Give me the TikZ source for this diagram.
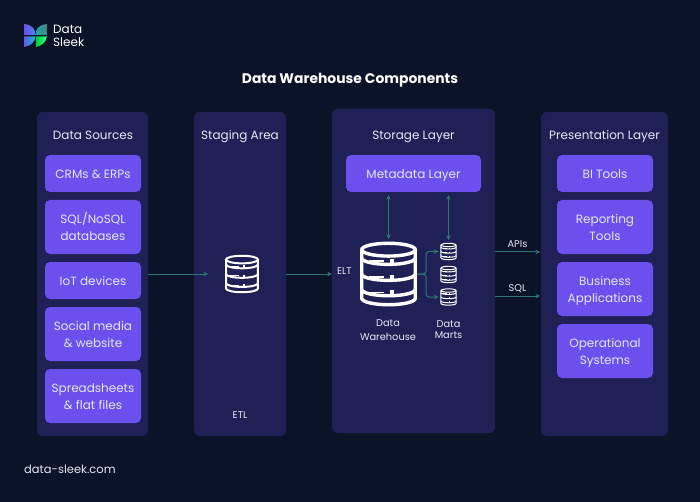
\documentclass[tikz,border=0pt]{standalone}
\usepackage{fontspec}
\setmainfont{Poppins}
\usetikzlibrary{calc}
\usetikzlibrary{arrows.meta,positioning}
\definecolor{bgdark}{HTML}{0B1328}
\definecolor{panelblue}{HTML}{1F2156}
\definecolor{boxviolet}{HTML}{6B50EE}
\definecolor{linkteal}{HTML}{2F7570}
\definecolor{labelgrey}{HTML}{E6E6F2}
\tikzset{
  panel/.style={fill=panelblue,rounded corners=6pt,inner sep=0pt},
  itembox/.style={fill=boxviolet,rounded corners=5pt,inner sep=0pt,text=labelgrey,
    font=\fontsize{12}{17}\selectfont,align=center},
  heading/.style={text=labelgrey,inner sep=0pt,text height=9pt,text depth=1pt,font=\fontsize{12}{15}\selectfont},
  smalltext/.style={text=labelgrey,inner sep=0pt,align=center,font=\fontsize{9.8}{14.5}\selectfont},
  link/.style={draw=linkteal,line width=1pt,-{Stealth[length=4.5pt,width=4.5pt]}},
  twoway/.style={link,{Stealth[length=4.5pt,width=4.5pt]}-{Stealth[length=4.5pt,width=4.5pt]},shorten <=3pt,shorten >=3pt},
  iconspot/.style={inner sep=0pt,outer sep=0pt},
}
\newcommand{\itl}[1]{\raisebox{-1.6pt}[9pt][3pt]{#1}}
% #1 name, #2 centre, #3 half width, #4 half height, #5 line width
\newcommand{\dbicon}[5]{
  \node[iconspot,minimum width=2*#3 pt,minimum height=2*#4 pt] (#1) at (#2) {};
  \begin{scope}[shift={(#2)},x=#3pt,y=-#4pt,draw=white,line width=#5,fill=white]
    \draw (0,-.76) ellipse [x radius=.94,y radius=.2];
    \draw (-.94,-.76) -- (-.94,.76) arc[start angle=180,end angle=0,x radius=.94,y radius=.2] -- (.94,-.76);
    \foreach \yy in {-.3,.2,.68} {
      \draw (-.94,\yy-.2) arc[start angle=180,end angle=0,x radius=.94,y radius=.2];
      \fill (.05,\yy-.17) rectangle (.2,\yy-.03);
      \draw[line width=.5*#5] (-.7,\yy-.1) -- (-.15,\yy-.1);
    }
  \end{scope}
}
\begin{document}
\begin{tikzpicture}[x=1pt,y=-1pt]
  \fill[bgdark] (0,0) rectangle (700,502);
  \useasboundingbox (0,0) rectangle (700,502);
  % logo
  \fill[left color=boxviolet,right color=boxviolet!70!cyan] (24,24) .. controls (33,25) and (35,29) .. (35.5,35) -- (24,35) -- cycle;
  \fill[left color=linkteal!60!cyan,right color=linkteal!90!white] (47,24) .. controls (38,25) and (36,29) .. (35.5,35) -- (47,35) -- cycle;
  \fill[left color=boxviolet,right color=cyan!60!teal] (24,36.5) -- (35.5,36.5) .. controls (35,42) and (31,46) .. (24,47) -- cycle;
  \fill[left color=green!60!teal,right color=green!50!cyan!80!white] (36,36.5) -- (47,36.5) .. controls (46,42) and (42,46) .. (36,47) -- cycle;
  \node[text=white,inner sep=0pt,anchor=west,align=left,font=\fontsize{12}{12.6}\selectfont] (logotext) at (53,36) {Data\\Sleek};

  \node[text=white,inner sep=0pt,font=\fontsize{13.9}{17}\selectfont\bfseries] (title) at (350,80) {Data Warehouse Components};
  \node[text=labelgrey,inner sep=0pt,anchor=west,font=\fontsize{11.5}{14}\selectfont] (website) at (24,469) {data-sleek.com};

  % panels
  \node[panel,minimum width=111pt,minimum height=324pt] (sources) at (92.5,274) {};
  \node[panel,minimum width=92pt,minimum height=324pt] (staging) at (240,274) {};
  \node[panel,minimum width=163pt,minimum height=324pt] (storage) at (413.5,271) {};
  \node[panel,minimum width=127pt,minimum height=324pt] (present) at (604.5,274) {};

  \node[heading] (sourceshead) at (93,135.5) {Data Sources};
  \node[heading] (staginghead) at (240,135.5) {Staging Area};
  \node[heading] (storagehead) at (413.5,135.5) {Storage Layer};
  \node[heading] (presenthead) at (604.5,135.5) {Presentation Layer};

  % left column
  \node[itembox,minimum width=96pt,minimum height=37pt] (crm) at (93,173.5) {\itl{CRMs \& ERPs}};
  \node[itembox,minimum width=96pt,minimum height=54pt] (sql) at (93,227) {\itl{SQL/NoSQL}\\\itl{databases}};
  \node[itembox,minimum width=96pt,minimum height=37pt] (iot) at (93,280.5) {\itl{IoT devices}};
  \node[itembox,minimum width=96pt,minimum height=54pt] (social) at (93,334) {\itl{Social media}\\\itl{\& website}};
  \node[itembox,minimum width=96pt,minimum height=54pt] (sheets) at (93,396) {\itl{Spreadsheets}\\\itl{\& flat files}};

  % right column
  \node[itembox,minimum width=96pt,minimum height=37pt] (bi) at (605,173.5) {\itl{BI Tools}};
  \node[itembox,minimum width=96pt,minimum height=54pt] (reporting) at (605,227) {\itl{Reporting}\\\itl{Tools}};
  \node[itembox,minimum width=96pt,minimum height=54pt] (business) at (605,289) {\itl{Business}\\\itl{Applications}};
  \node[itembox,minimum width=96pt,minimum height=54pt] (operational) at (605,351) {\itl{Operational}\\\itl{Systems}};

  \node[itembox,minimum width=135pt,minimum height=37pt] (metadata) at (413.5,173.5) {\itl{Metadata Layer}};

  % icons
  \dbicon{etlicon}{242,274}{17}{19}{2pt}
  \dbicon{warehouse}{388.5,274}{28.5}{32}{3.4pt}
  \dbicon{martone}{448.5,251.5}{8}{8.5}{1pt}
  \dbicon{marttwo}{448.5,274.5}{8}{8.5}{1pt}
  \dbicon{martthree}{448.5,297}{8}{8.5}{1pt}

  \node[smalltext] (etlnote) at (240,415) {ETL};
  \node[smalltext,anchor=west] (eltnote) at (337,271.5) {ELT};
  \node[smalltext] (dwlabel) at (388,330) {Data\\Warehouse};
  \node[smalltext,font=\fontsize{9.8}{10.5}\selectfont] (dmlabel) at (448.5,329.5) {Data\\Marts};
  \node[smalltext] (apilabel) at (517.5,244.5) {APIs};
  \node[smalltext] (sqllabel) at (517.5,288.5) {SQL};

  % links
  \coordinate (etlin) at (208,274);
  \coordinate (apiout) at (494.5,252);
  \coordinate (apiend) at (540,252);
  \coordinate (sqlout) at (494.5,296);
  \coordinate (sqlend) at (540,296);
  \draw[link] (sources.east |- etlin) -- (etlin);
  \draw[link] (staging.east |- etlin) -- (storage.west |- etlin);
  \draw[link] (apiout) -- (apiend);
  \draw[link] (sqlout) -- (sqlend);
  \draw[twoway] (metadata.south -| warehouse) -- (warehouse.north);
  \draw[twoway] (metadata.south -| martone) -- (martone.north);
  \draw[link,rounded corners=3pt,shorten >=2pt] (warehouse.east) -- ++(9,0) |- (martone.west);
  \draw[link,rounded corners=3pt,shorten >=2pt] (warehouse.east) -- ++(9,0) |- (martthree.west);
\end{tikzpicture}
\end{document}
